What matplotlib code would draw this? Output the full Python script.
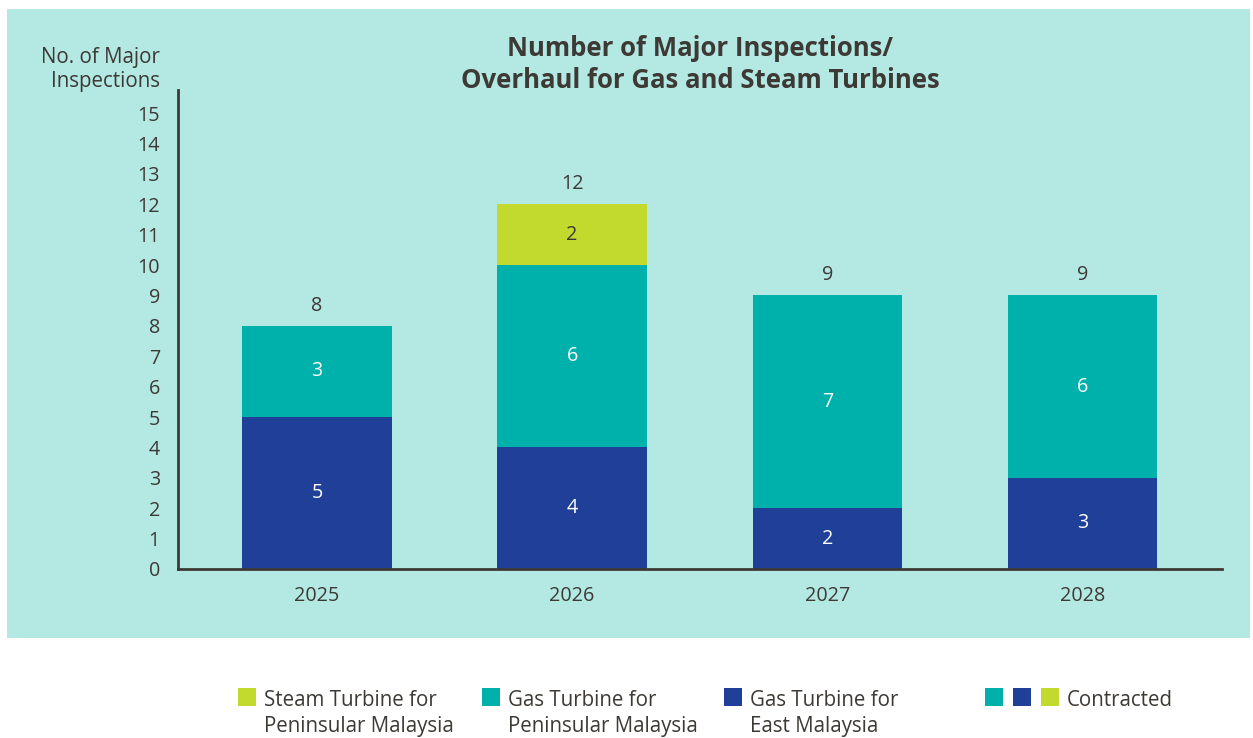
import matplotlib
matplotlib.use("Agg")
import matplotlib.pyplot as plt
from matplotlib.patches import Rectangle

years = ["2025", "2026", "2027", "2028"]
gas_east = [5, 4, 2, 3]
gas_pen = [3, 6, 7, 6]
steam_pen = [0, 2, 0, 0]
totals = [8, 12, 9, 9]
yticks = list(range(0, 16))

C_BLUE = "#1f3f98"
C_TEAL = "#00b0aa"
C_LIME = "#c2d92e"
C_TEXT = "#3d3935"
C_BG = "#b3e8e3"

plt.rcParams['font.family'] = ['Open Sans', 'DejaVu Sans']
FS = 14.2
FL = 14.8

W, H = 1253, 738
fig = plt.figure(figsize=(W / 100, H / 100), dpi=100)
fig.patch.set_facecolor("white")
fig.patches.append(Rectangle((7 / W, 1 - 638 / H), (1250 - 7) / W, (638 - 9) / H,
                             transform=fig.transFigure, facecolor=C_BG, edgecolor="none", zorder=-5))

ax = fig.add_axes([178 / W, 169 / H, (1222 - 178) / W, (648 - 169) / H])
ax.set_facecolor("none")
ax.set_zorder(2)
x = list(range(len(years)))
bw = 0.586
ax.bar(x, gas_east, bw, color=C_BLUE, zorder=2)
ax.bar(x, gas_pen, bw, bottom=gas_east, color=C_TEAL, zorder=2)
bottoms2 = [a + b for a, b in zip(gas_east, gas_pen)]
ax.bar(x, steam_pen, bw, bottom=bottoms2, color=C_LIME, zorder=2)

for i in x:
    if gas_east[i]:
        ax.text(i, gas_east[i] / 2, str(gas_east[i]), ha="center", va="center", color="white", fontsize=FS)
    if gas_pen[i]:
        ax.text(i, gas_east[i] + gas_pen[i] / 2, str(gas_pen[i]), ha="center", va="center", color="white", fontsize=FS)
    if steam_pen[i]:
        ax.text(i, bottoms2[i] + steam_pen[i] / 2, str(steam_pen[i]), ha="center", va="center", color=C_TEXT, fontsize=FS)
    ax.text(i, totals[i] + 0.66, str(totals[i]), ha="center", va="center", color=C_TEXT, fontsize=FS)

ax.set_xlim(-0.545, 3.547)
ax.set_ylim(0, 15.76)
ax.set_yticks(yticks)
ax.set_yticklabels([str(t) for t in yticks])
ax.set_xticks(x)
ax.set_xticklabels(years)
ax.tick_params(axis="both", length=0, labelsize=FS, labelcolor=C_TEXT)
ax.tick_params(axis="y", pad=13)
ax.tick_params(axis="x", pad=12)
for s in ["top", "right"]:
    ax.spines[s].set_visible(False)
for s in ["left", "bottom"]:
    ax.spines[s].set_color(C_TEXT)
    ax.spines[s].set_linewidth(2)

for yy, line in [(46, "Number of Major Inspections/"), (78, "Overhaul for Gas and Steam Turbines")]:
    fig.text(700 / W, 1 - yy / H, line, ha="center", va="center_baseline",
             fontsize=18.5, fontweight="bold", color=C_TEXT)
for yy, line in [(55, "No. of Major"), (79, "Inspections")]:
    fig.text(160 / W, 1 - yy / H, line, ha="right", va="center_baseline", fontsize=FL, color=C_TEXT)

# legend
def sq(xp, color):
    fig.patches.append(Rectangle((xp / W, 1 - 706 / H), 18 / W, 18 / H, transform=fig.transFigure,
                                 facecolor=color, edgecolor="none"))

legend_items = [(238, C_LIME, ["Steam Turbine for", "Peninsular Malaysia"]),
                (482, C_TEAL, ["Gas Turbine for", "Peninsular Malaysia"]),
                (724, C_BLUE, ["Gas Turbine for", "East Malaysia"])]
for xp, col, lines in legend_items:
    sq(xp, col)
    for yy, line in zip([698, 724], lines):
        fig.text((xp + 26) / W, 1 - yy / H, line, ha="left", va="center_baseline", fontsize=FL, color=C_TEXT)
for xp, col in [(985, C_TEAL), (1013, C_BLUE), (1041, C_LIME)]:
    sq(xp, col)
fig.text(1067 / W, 1 - 698 / H, "Contracted", ha="left", va="center_baseline", fontsize=FL, color=C_TEXT)

fig.savefig("out.png", dpi=100)
